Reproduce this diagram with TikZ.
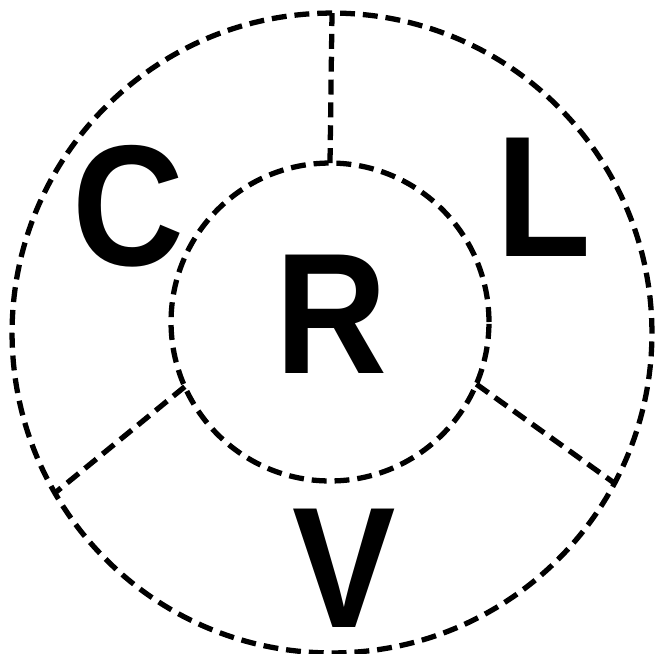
\documentclass[tikz,border=0pt]{standalone}
\usepackage{fontspec}
\setmainfont{Liberation Sans}
\usepackage{graphicx}
\usepackage{tikz}
\usetikzlibrary{positioning}

\newcommand{\narrow}[1]{\scalebox{0.9}[1]{#1}}

\begin{document}
\begin{tikzpicture}[
  x=0.02cm, y=-0.02cm,
  ring/.style = {circle, draw, line width=3pt, dash pattern=on 8.5pt off 4.5pt,
                 inner sep=0pt, outer sep=0pt},
  divider/.style = {line width=3pt, dash pattern=on 8.5pt off 4.5pt},
  letter/.style = {font=\fontsize{98}{98}\selectfont\bfseries, inner sep=0pt},
]
  \useasboundingbox (0,0) rectangle (655,653);

  \node[ring, minimum size=12.8cm]  (outer) at (332,333) {};
  \node[ring, minimum size=6.36cm]  (inner) at (330,322) {};

  \draw[divider] (inner.90)  -- (outer.90);
  \draw[divider] (inner.204) -- (outer.210);
  \draw[divider] (inner.-23) -- (outer.-28);

  \node[letter] (c) at (128,206) {\narrow{C}};
  \node[letter] (l) at (544,197) {\narrow{L}};
  \node[letter] (r) at (331,314) {\narrow{R}};
  \node[letter] (v) at (344,568) {\narrow{V}};
\end{tikzpicture}
\end{document}
